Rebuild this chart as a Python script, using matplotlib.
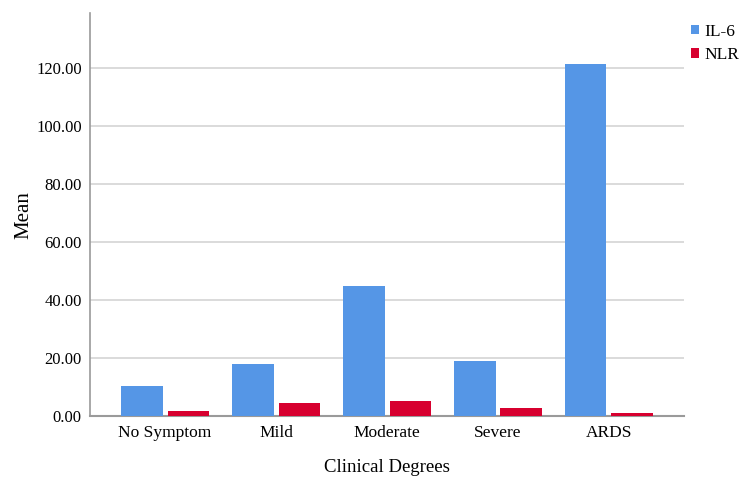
import matplotlib
matplotlib.use("Agg")
import matplotlib.pyplot as plt
import numpy as np

categories = ["No Symptom", "Mild", "Moderate", "Severe", "ARDS"]
il6 = [10.5, 18.1, 45.0, 19.0, 121.5]
nlr = [1.9, 4.8, 5.4, 2.9, 1.3]
yticks = [0, 20, 40, 60, 80, 100, 120]

plt.rcParams['font.family'] = ['Liberation Serif', 'DejaVu Serif']

fig = plt.figure(figsize=(7.39, 4.78), dpi=100)
ax = fig.add_axes([0.1218, 0.1287, 0.9256 - 0.1218, 0.9728 - 0.1287])

x = np.arange(len(categories))
w = 0.37
off = 0.2075
blue = "#5596E6"
red = "#D7002F"
ax.bar(x - off, il6, width=w, color=blue, label="IL-6", zorder=3)
ax.bar(x + off, nlr, width=w, color=red, label="NLR", zorder=3)

ax.set_xlim(-0.676, 4.676)
ax.set_ylim(0, 139)
ax.set_yticks(yticks)
ax.set_yticklabels([f"{v:.2f}" for v in yticks], fontsize=12)
ax.set_xticks(x)
ax.set_xticklabels(categories, fontsize=12.5)
ax.tick_params(axis='both', length=0, pad=6)
ax.yaxis.grid(True, color="#d4d4d4", linewidth=1.2, zorder=0)
ax.set_axisbelow(True)
for s in ["top", "right"]:
    ax.spines[s].set_visible(False)
ax.spines["left"].set_color("#9a9a9a")
ax.spines["bottom"].set_color("#9a9a9a")
ax.spines["left"].set_linewidth(1.2)
ax.spines["bottom"].set_linewidth(1.5)

ax.set_ylabel("Mean", fontsize=15, labelpad=2)
ax.set_xlabel("Clinical Degrees", fontsize=13.5, labelpad=13)

leg = fig.legend(loc="upper left", bbox_to_anchor=(0.925, 0.965), frameon=False,
                 handlelength=0.5, handleheight=0.5, handletextpad=0.3,
                 fontsize=12.5, labelspacing=0.45, borderaxespad=0)

fig.savefig("out.png", dpi=100)
